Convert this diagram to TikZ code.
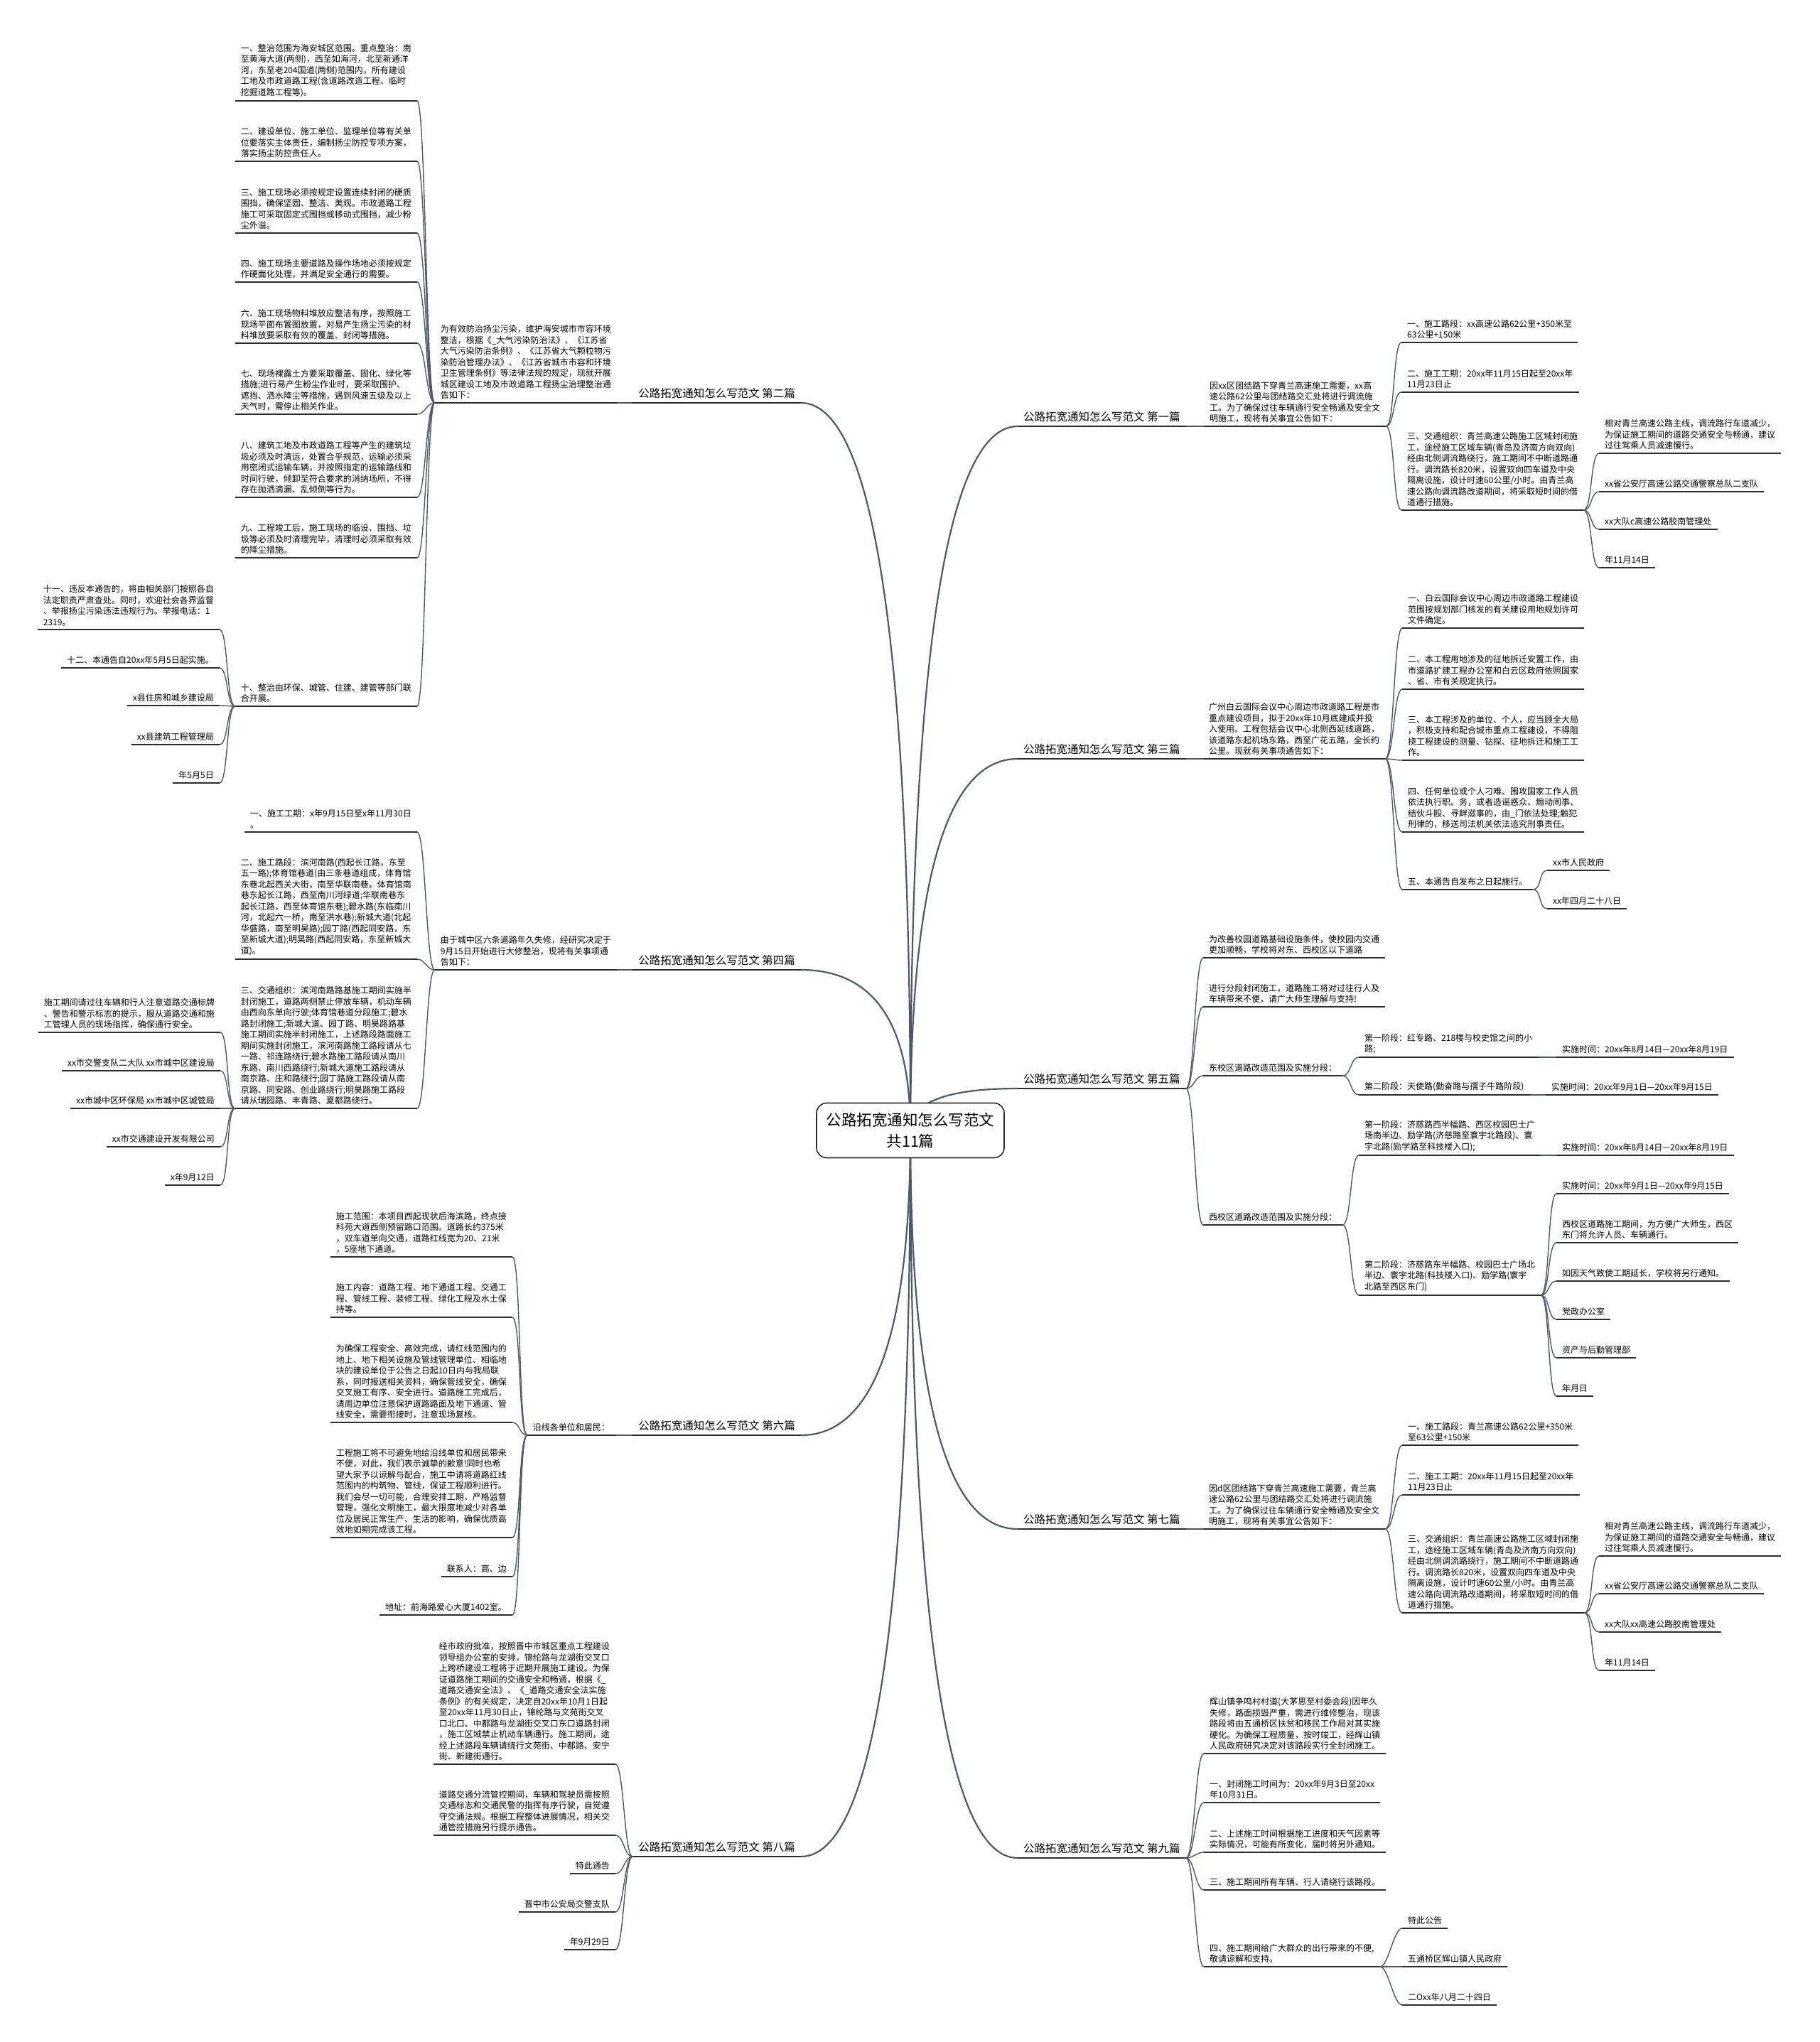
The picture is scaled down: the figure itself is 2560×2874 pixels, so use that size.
\documentclass[tikz,border=0pt]{standalone}
\usepackage{fontspec}
\usetikzlibrary{calc}
\newfontfamily\cjk{Noto Sans CJK SC}
\definecolor{linecol}{HTML}{2B2B2B}
\definecolor{linkcol}{HTML}{4A5A68}

\begin{document}
\begin{tikzpicture}[x=1pt, y=-1pt,
    uline/.style={draw=linecol, line width=1.8pt},
    txt/.style={font=\cjk\fontsize{12}{15.5}\selectfont, align=left, inner xsep=8pt, inner ysep=5pt,
      append after command={(\tikzlastnode.south west) edge[uline] (\tikzlastnode.south east)}},
    rleaf/.style={txt, anchor=south west},
    lleaf/.style={txt, anchor=south east},
    branch/.style={txt, font=\cjk\fontsize{15.5}{19}\selectfont, inner ysep=6pt},
    rbranch/.style={branch, anchor=south west},
    lbranch/.style={branch, anchor=south east},
    root/.style={draw=linecol, line width=1.6pt, fill=white, rounded corners=14pt, align=center,
      font=\cjk\fontsize{21.5}{30}\selectfont, minimum width=264pt, minimum height=77pt},
    rlink/.style={draw=linkcol, line width=1.4pt, out=0, in=180, max distance=12pt},
    llink/.style={draw=linkcol, line width=1.4pt, out=180, in=0, max distance=12pt},
    rootlink/.style={draw=linkcol, line width=2.2pt}]

  \fill[white] (0,0) rectangle (2560,2874);
  \useasboundingbox (0,0) rectangle (2560,2874);

  % Right side
  \node[rbranch] (p1) at (1432,600) {公路拓宽通知怎么写范文 第一篇};
  \node[rleaf] (p1i) at (1694,600) {因xx区团结路下穿青兰高速施工需要，xx高\\速公路62公里与团结路交汇处将进行调流施\\工。为了确保过往车辆通行安全畅通及安全文\\明施工，现将有关事宜公告如下：};
  \node[rleaf] (p1a) at (1972,482) {一、施工路段：xx高速公路62公里+350米至\\63公里+150米};
  \node[rleaf] (p1b) at (1972,552) {二、施工工期：20xx年11月15日起至20xx年\\11月23日止};
  \node[rleaf] (p1c) at (1972,718) {三、交通组织：青兰高速公路施工区域封闭施\\工，途经施工区域车辆(青岛及济南方向双向)\\经由北侧调流路绕行，施工期间不中断道路通\\行。调流路长820米，设置双向四车道及中央\\隔离设施，设计时速60公里/小时。由青兰高\\速公路向调流路改道期间，将采取短时间的借\\道通行措施。};
  \node[rleaf] (p1c1) at (2250,638) {相对青兰高速公路主线，调流路行车道减少，\\为保证施工期间的道路交通安全与畅通，建议\\过往驾乘人员减速慢行。};
  \node[rleaf] (p1c2) at (2250,692) {xx省公安厅高速公路交通警察总队二支队};
  \node[rleaf] (p1c3) at (2250,745) {xx大队c高速公路胶南管理处};
  \node[rleaf] (p1c4) at (2250,799) {年11月14日};

  \node[rbranch] (p3) at (1432,1068) {公路拓宽通知怎么写范文 第三篇};
  \node[rleaf] (p3i) at (1693,1068) {广州白云国际会议中心周边市政道路工程是市\\重点建设项目，拟于20xx年10月底建成并投\\入使用。工程包括会议中心北侧西延线道路，\\该道路东起机场东路，西至广花五路，全长约\\公里。现就有关事项通告如下：};
  \node[rleaf] (p3a) at (1973,884) {一、白云国际会议中心周边市政道路工程建设\\范围按规划部门核发的有关建设用地规划许可\\文件确定。};
  \node[rleaf] (p3b) at (1973,970) {二、本工程用地涉及的征地拆迁安置工作，由\\市道路扩建工程办公室和白云区政府依照国家\\、省、市有关规定执行。};
  \node[rleaf] (p3c) at (1973,1070) {三、本工程涉及的单位、个人，应当顾全大局\\，积极支持和配合城市重点工程建设，不得阻\\挠工程建设的测量、钻探、征地拆迁和施工工\\作。};
  \node[rleaf] (p3d) at (1973,1171) {四、任何单位或个人刁难、围攻国家工作人员\\依法执行职。务，或者造谣惑众、煽动闹事、\\结伙斗殴、寻衅滋事的，由\_门依法处理;触犯\\刑律的，移送司法机关依法追究刑事责任。};
  \node[rleaf] (p3e) at (1973,1252) {五、本通告自发布之日起施行。};
  \node[rleaf] (p3e1) at (2177,1225) {xx市人民政府};
  \node[rleaf] (p3e2) at (2177,1279) {xx年四月二十八日};

  \node[rbranch] (p5) at (1432,1532) {公路拓宽通知怎么写范文 第五篇};
  \node[rleaf] (p5a) at (1693,1348) {为改善校园道路基础设施条件，使校园内交通\\更加顺畅，学校将对东、西校区以下道路};
  \node[rleaf] (p5b) at (1693,1417) {进行分段封闭施工，道路施工将对过往行人及\\车辆带来不便，请广大师生理解与支持!};
  \node[rleaf] (p5c) at (1693,1514) {东校区道路改造范围及实施分段：};
  \node[rleaf] (p5d) at (1693,1724) {西校区道路改造范围及实施分段：};
  \node[rleaf] (p5c1) at (1912,1488) {第一阶段：红专路、218楼与校史馆之间的小\\路;};
  \node[rleaf] (p5c2) at (1912,1541) {第二阶段：天使路(勤奋路与孺子牛路阶段)};
  \node[rleaf] (p5c1t) at (2190,1488) {实施时间：20xx年8月14日—20xx年8月19日};
  \node[rleaf] (p5c2t) at (2175,1541) {实施时间：20xx年9月1日—20xx年9月15日};
  \node[rleaf] (p5d1) at (1912,1626) {第一阶段：济慈路西半幅路、西区校园巴士广\\场南半边、励学路(济慈路至寰宇北路段)、寰\\宇北路(励学路至科技楼入口);};
  \node[rleaf] (p5d2) at (1912,1823) {第二阶段：济慈路东半幅路、校园巴士广场北\\半边、寰宇北路(科技楼入口)、励学路(寰宇\\北路至西区东门)};
  \node[rleaf] (p5d1t) at (2190,1626) {实施时间：20xx年8月14日—20xx年8月19日};
  \node[rleaf] (p5d2a) at (2190,1680) {实施时间：20xx年9月1日—20xx年9月15日};
  \node[rleaf] (p5d2b) at (2190,1749) {西校区道路施工期间，为方便广大师生，西区\\东门将允许人员、车辆通行。};
  \node[rleaf] (p5d2c) at (2190,1803) {如因天气致使工期延长，学校将另行通知。};
  \node[rleaf] (p5d2d) at (2190,1857) {党政办公室};
  \node[rleaf] (p5d2e) at (2190,1911) {资产与后勤管理部};
  \node[rleaf] (p5d2f) at (2190,1965) {年月日};

  \node[rbranch] (p7) at (1432,2152) {公路拓宽通知怎么写范文 第七篇};
  \node[rleaf] (p7i) at (1693,2152) {因d区团结路下穿青兰高速施工需要，青兰高\\速公路62公里与团结路交汇处将进行调流施\\工。为了确保过往车辆通行安全畅通及安全文\\明施工，现将有关事宜公告如下：};
  \node[rleaf] (p7a) at (1973,2034) {一、施工路段：青兰高速公路62公里+350米\\至63公里+150米};
  \node[rleaf] (p7b) at (1973,2104) {二、施工工期：20xx年11月15日起至20xx年\\11月23日止};
  \node[rleaf] (p7c) at (1973,2270) {三、交通组织：青兰高速公路施工区域封闭施\\工，途经施工区域车辆(青岛及济南方向双向)\\经由北侧调流路绕行，施工期间不中断道路通\\行。调流路长820米，设置双向四车道及中央\\隔离设施，设计时速60公里/小时。由青兰高\\速公路向调流路改道期间，将采取短时间的借\\道通行措施。};
  \node[rleaf] (p7c1) at (2250,2190) {相对青兰高速公路主线，调流路行车道减少，\\为保证施工期间的道路交通安全与畅通，建议\\过往驾乘人员减速慢行。};
  \node[rleaf] (p7c2) at (2250,2243) {xx省公安厅高速公路交通警察总队二支队};
  \node[rleaf] (p7c3) at (2250,2297) {xx大队xx高速公路胶南管理处};
  \node[rleaf] (p7c4) at (2250,2351) {年11月14日};

  \node[rbranch] (p9) at (1432,2615) {公路拓宽通知怎么写范文 第九篇};
  \node[rleaf] (p9a) at (1694,2468) {辉山镇争鸣村村道(大茅思至村委会段)因年久\\失修，路面损毁严重，需进行维修整治，现该\\路段将由五通桥区扶贫和移民工作局对其实施\\硬化。为确保工程质量，按时竣工，经辉山镇\\人民政府研究决定对该路段实行全封闭施工。};
  \node[rleaf] (p9b) at (1694,2537) {一、封闭施工时间为：20xx年9月3日至20xx\\年10月31日。};
  \node[rleaf] (p9c) at (1694,2607) {二、上述施工时间根据施工进度和天气因素等\\实际情况，可能有所变化，届时将另外通知。};
  \node[rleaf] (p9d) at (1694,2660) {三、施工期间所有车辆、行人请绕行该路段。};
  \node[rleaf] (p9e) at (1694,2768) {四、施工期间给广大群众的出行带来的不便,\\敬请谅解和支持。};
  \node[rleaf] (p9e1) at (1973,2714) {特此公告};
  \node[rleaf] (p9e2) at (1973,2768) {五通桥区辉山镇人民政府};
  \node[rleaf] (p9e3) at (1973,2822) {二Oxx年八月二十四日};

  % Left side
  \node[lbranch] (p2) at (1127,567) {公路拓宽通知怎么写范文 第二篇};
  \node[lleaf] (p2i) at (868,567) {为有效防治扬尘污染，维护海安城市市容环境\\整洁，根据《\_大气污染防治法》、《江苏省\\大气污染防治条例》、《江苏省大气颗粒物污\\染防治管理办法》、《江苏省城市市容和环境\\卫生管理条例》等法律法规的规定，现就开展\\城区建设工地及市政道路工程扬尘治理整治通\\告如下：};
  \node[lleaf] (p2a) at (587,142) {一、整治范围为海安城区范围。重点整治：南\\至黄海大道(两侧)，西至如海河，北至新通洋\\河，东至老204国道(两侧)范围内，所有建设\\工地及市政道路工程(含道路改造工程、临时\\挖掘道路工程等)。};
  \node[lleaf] (p2b) at (587,227) {二、建设单位、施工单位、监理单位等有关单\\位要落实主体责任，编制扬尘防控专项方案，\\落实扬尘防控责任人。};
  \node[lleaf] (p2c) at (587,328) {三、施工现场必须按规定设置连续封闭的硬质\\围挡，确保坚固、整洁、美观。市政道路工程\\施工可采取固定式围挡或移动式围挡，减少粉\\尘外溢。};
  \node[lleaf] (p2d) at (587,397) {四、施工现场主要道路及操作场地必须按规定\\作硬面化处理，并满足安全通行的需要。};
  \node[lleaf] (p2e) at (587,483) {六、施工现场物料堆放应整洁有序，按照施工\\现场平面布置图放置，对易产生扬尘污染的材\\料堆放要采取有效的覆盖、封闭等措施。};
  \node[lleaf] (p2f) at (587,583) {七、现场裸露土方要采取覆盖、固化、绿化等\\措施;进行易产生粉尘作业时，要采取围护、\\遮挡、洒水降尘等措施，遇到风速五级及以上\\天气时，需停止相关作业。};
  \node[lleaf] (p2g) at (587,700) {八、建筑工地及市政道路工程等产生的建筑垃\\圾必须及时清运，处置合乎规范，运输必须采\\用密闭式运输车辆，并按照指定的运输路线和\\时间行驶，倾卸至符合要求的消纳场所，不得\\存在抛洒滴漏、乱倾倒等行为。};
  \node[lleaf] (p2h) at (587,785) {九、工程竣工后，施工现场的临设、围挡、垃\\圾等必须及时清理完毕，清理时必须采取有效\\的降尘措施。};
  \node[lleaf] (p2j) at (587,994) {十、整治由环保、城管、住建、建管等部门联\\合开展。};
  \node[lleaf] (p2j1) at (309,886) {十一、违反本通告的，将由相关部门按照各自\\法定职责严肃查处。同时，欢迎社会各界监督\\、举报扬尘污染违法违规行为。举报电话：1\\2319。};
  \node[lleaf] (p2j2) at (309,940) {十二、本通告自20xx年5月5日起实施。};
  \node[lleaf] (p2j3) at (309,993) {x县住房和城乡建设局};
  \node[lleaf] (p2j4) at (309,1048) {xx县建筑工程管理局};
  \node[lleaf] (p2j5) at (309,1102) {年5月5日};

  \node[lbranch] (p4) at (1127,1365) {公路拓宽通知怎么写范文 第四篇};
  \node[lleaf] (p4i) at (868,1365) {由于城中区六条道路年久失修，经研究决定于\\9月15日开始进行大修整治，现将有关事项通\\告如下：};
  \node[lleaf] (p4a) at (587,1171) {一、施工工期：x年9月15日至x年11月30日\\。};
  \node[lleaf] (p4b) at (587,1350) {二、施工路段：滨河南路(西起长江路，东至\\五一路);体育馆巷道(由三条巷道组成，体育馆\\东巷北起西关大街，南至华联南巷。体育馆南\\巷东起长江路，西至南川河绿道;华联南巷东\\起长江路，西至体育馆东巷);碧水路(东临南川\\河，北起六一桥，南至洪水巷);新城大道(北起\\华盛路，南至明昊路);园丁路(西起同安路，东\\至新城大道);明昊路(西起同安路，东至新城大\\道)。};
  \node[lleaf] (p4c) at (587,1560) {三、交通组织：滨河南路路基施工期间实施半\\封闭施工，道路两侧禁止停放车辆，机动车辆\\由西向东单向行驶;体育馆巷道分段施工;碧水\\路封闭施工;新城大道、园丁路、明昊路路基\\施工期间实施半封闭施工，上述路段路面施工\\期间实施封闭施工，滨河南路施工路段请从七\\一路、祁连路绕行;碧水路施工路段请从南川\\东路、南川西路绕行;新城大道施工路段请从\\南京路、庄和路绕行;园丁路施工路段请从南\\京路、同安路、创业路绕行;明昊路施工路段\\请从瑞园路、丰青路、夏都路绕行。};
  \node[lleaf] (p4c1) at (310,1453) {施工期间请过往车辆和行人注意道路交通标牌\\、警告和警示标志的提示，服从道路交通和施\\工管理人员的现场指挥，确保通行安全。};
  \node[lleaf] (p4c2) at (310,1507) {xx市交警支队二大队 xx市城中区建设局};
  \node[lleaf] (p4c3) at (310,1560) {xx市城中区环保局 xx市城中区城管局};
  \node[lleaf] (p4c4) at (310,1614) {xx市交通建设开发有限公司};
  \node[lleaf] (p4c5) at (310,1668) {x年9月12日};

  \node[lbranch] (p6) at (1127,2020) {公路拓宽通知怎么写范文 第六篇};
  \node[lleaf] (p6i) at (866,2020) {沿线各单位和居民：};
  \node[lleaf] (p6a) at (721,1769) {施工范围：本项目西起现状后海滨路，终点接\\科苑大道西侧预留路口范围。道路长约375米\\，双车道单向交通，道路红线宽为20、21米\\，5座地下通道。};
  \node[lleaf] (p6b) at (721,1854) {施工内容：道路工程、地下通道工程、交通工\\程、管线工程、装修工程、绿化工程及水土保\\持等。};
  \node[lleaf] (p6c) at (721,2002) {为确保工程安全、高效完成，请红线范围内的\\地上、地下相关设施及管线管理单位、相临地\\块的建设单位于公告之日起10日内与我局联\\系，同时报送相关资料，确保管线安全，确保\\交叉施工有序、安全进行。道路施工完成后，\\请周边单位注意保护道路路面及地下通道、管\\线安全，需要衔接时，注意现场复核。};
  \node[lleaf] (p6d) at (721,2164) {工程施工将不可避免地给沿线单位和居民带来\\不便，对此，我们表示诚挚的歉意!同时也希\\望大家予以谅解与配合，施工中请将道路红线\\范围内的构筑物、管线，保证工程顺利进行。\\我们会尽一切可能，合理安排工期，严格监督\\管理，强化文明施工，最大限度地减少对各单\\位及居民正常生产、生活的影响，确保优质高\\效地如期完成该工程。};
  \node[lleaf] (p6e) at (721,2219) {联系人：高、边};
  \node[lleaf] (p6f) at (721,2273) {地址：前海路爱心大厦1402室。};

  \node[lbranch] (p8) at (1127,2613) {公路拓宽通知怎么写范文 第八篇};
  \node[lleaf] (p8a) at (866,2483) {经市政府批准，按照晋中市城区重点工程建设\\领导组办公室的安排，锦纶路与龙湖街交叉口\\上跨桥建设工程将于近期开展施工建设。为保\\证道路施工期间的交通安全和畅通，根据《\_\\道路交通安全法》、《\_道路交通安全法实施\\条例》的有关规定，决定自20xx年10月1日起\\至20xx年11月30日止，锦纶路与文苑街交叉\\口北口、中都路与龙湖街交叉口东口道路封闭\\，施工区域禁止机动车辆通行。施工期间，途\\经上述路段车辆请绕行文苑街、中都路、安宁\\街、新建街通行。};
  \node[lleaf] (p8b) at (866,2583) {道路交通分流管控期间，车辆和驾驶员需按照\\交通标志和交通民警的指挥有序行驶，自觉遵\\守交通法规。根据工程整体进展情况，相关交\\通管控措施另行提示通告。};
  \node[lleaf] (p8c) at (866,2637) {特此通告};
  \node[lleaf] (p8d) at (866,2691) {晋中市公安局交警支队};
  \node[lleaf] (p8e) at (866,2744) {年9月29日};

  % Links
  \coordinate (hub) at (1281,1591);
  \foreach \c in {p1,p3,p5,p7,p9}
    \draw[rootlink] (hub) .. controls ($(hub)!.667!(hub |- \c.south west)$) and ($(\c.south west)!.667!(hub |- \c.south west)$) .. (\c.south west);
  \foreach \c in {p2,p4,p6,p8}
    \draw[rootlink] (hub) .. controls ($(hub)!.667!(hub |- \c.south east)$) and ($(\c.south east)!.667!(hub |- \c.south east)$) .. (\c.south east);
  \node[root] (root) at (hub) {公路拓宽通知怎么写范文\\共11篇};

  \draw[rlink] (p1.south east) to (p1i.south west);
  \foreach \c in {p1a,p1b,p1c} \draw[rlink] (p1i.south east) to (\c.south west);
  \foreach \c in {p1c1,p1c2,p1c3,p1c4} \draw[rlink] (p1c.south east) to (\c.south west);
  \draw[rlink] (p3.south east) to (p3i.south west);
  \foreach \c in {p3a,p3b,p3c,p3d,p3e} \draw[rlink] (p3i.south east) to (\c.south west);
  \foreach \c in {p3e1,p3e2} \draw[rlink] (p3e.south east) to (\c.south west);
  \foreach \c in {p5a,p5b,p5c,p5d} \draw[rlink] (p5.south east) to (\c.south west);
  \foreach \c in {p5c1,p5c2} \draw[rlink] (p5c.south east) to (\c.south west);
  \draw[rlink] (p5c1.south east) to (p5c1t.south west);
  \draw[rlink] (p5c2.south east) to (p5c2t.south west);
  \foreach \c in {p5d1,p5d2} \draw[rlink] (p5d.south east) to (\c.south west);
  \draw[rlink] (p5d1.south east) to (p5d1t.south west);
  \foreach \c in {p5d2a,p5d2b,p5d2c,p5d2d,p5d2e,p5d2f} \draw[rlink] (p5d2.south east) to (\c.south west);
  \draw[rlink] (p7.south east) to (p7i.south west);
  \foreach \c in {p7a,p7b,p7c} \draw[rlink] (p7i.south east) to (\c.south west);
  \foreach \c in {p7c1,p7c2,p7c3,p7c4} \draw[rlink] (p7c.south east) to (\c.south west);
  \foreach \c in {p9a,p9b,p9c,p9d,p9e} \draw[rlink] (p9.south east) to (\c.south west);
  \foreach \c in {p9e1,p9e2,p9e3} \draw[rlink] (p9e.south east) to (\c.south west);

  \draw[llink] (p2.south west) to (p2i.south east);
  \foreach \c in {p2a,p2b,p2c,p2d,p2e,p2f,p2g,p2h,p2j} \draw[llink] (p2i.south west) to (\c.south east);
  \foreach \c in {p2j1,p2j2,p2j3,p2j4,p2j5} \draw[llink] (p2j.south west) to (\c.south east);
  \draw[llink] (p4.south west) to (p4i.south east);
  \foreach \c in {p4a,p4b,p4c} \draw[llink] (p4i.south west) to (\c.south east);
  \foreach \c in {p4c1,p4c2,p4c3,p4c4,p4c5} \draw[llink] (p4c.south west) to (\c.south east);
  \draw[llink] (p6.south west) to (p6i.south east);
  \foreach \c in {p6a,p6b,p6c,p6d,p6e,p6f} \draw[llink] (p6i.south west) to (\c.south east);
  \foreach \c in {p8a,p8b,p8c,p8d,p8e} \draw[llink] (p8.south west) to (\c.south east);

\end{tikzpicture}
\end{document}
